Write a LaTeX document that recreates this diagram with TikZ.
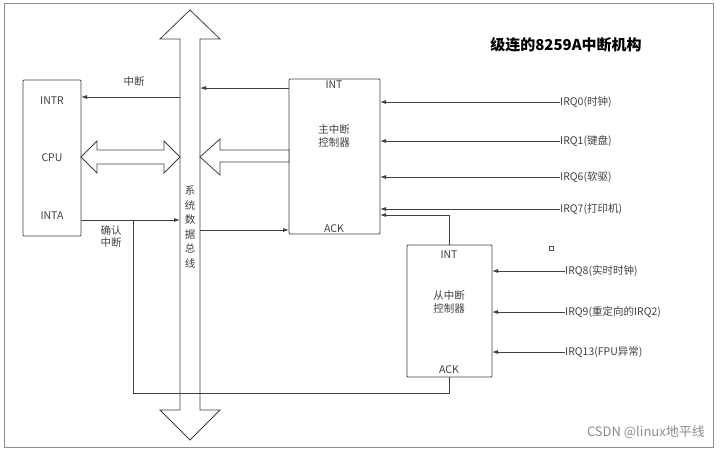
\documentclass[tikz,border=0pt]{standalone}
\usepackage{fontspec}
\setmainfont{Noto Sans CJK SC}
\usetikzlibrary{arrows.meta}
\begin{document}
\begin{tikzpicture}[x=1pt,y=-1pt,
  box/.style={draw=black!75,rounded corners=1pt,line width=0.8pt},
  conn/.style={draw=black!75,line width=0.8pt,-{Latex[length=6pt,width=4pt]}},
  wire/.style={draw=black!75,line width=0.8pt},
  hol/.style={draw=black!75,line width=0.8pt,fill=white,line join=miter},
  lab/.style={font=\fontsize{10.5}{12}\selectfont,text=black!75,inner sep=0pt}]
\useasboundingbox (0,0) rectangle (720,451);
\draw[black!45,line width=0.8pt] (4,3) rectangle (713,447);
% boxes
\draw[box] (23,80) rectangle (81,236);
\draw[box] (289,79) rectangle (380,234);
\draw[box] (407,245) rectangle (492,377);
\node[lab] (intr) at (52,101) {INTR};
\node[lab] (cpu) at (52,158) {CPU};
\node[lab] (inta) at (52,216) {INTA};
\node[lab] (mint) at (334,85) {INT};
\node[lab,align=center] (mname) at (334,136) {主中断\\[1pt]控制器};
\node[lab] (mack) at (334,229) {ACK};
\node[lab] (sint) at (449,255) {INT};
\node[lab,align=center] (sname) at (449,302) {从中断\\[1pt]控制器};
\node[lab] (sack) at (449,370) {ACK};
% bus
\draw[hol] (190,10) -- (220,39) -- (200,39) -- (200,410) -- (220,410) -- (190,440) -- (160,410) -- (180,410) -- (180,39) -- (160,39) -- cycle;
\node[lab,align=center,font=\fontsize{10.5}{14.5}\selectfont] (bus) at (190,227) {系\\统\\数\\据\\总\\线};
% CPU double arrow
\draw[hol] (81,157) -- (97,141) -- (97,150) -- (164,150) -- (164,141) -- (180,157) -- (164,173) -- (164,164) -- (97,164) -- (97,173) -- cycle;
% master hollow arrow
\draw[hol] (200,157) -- (220,139) -- (220,150) -- (289,150) -- (289,162) -- (220,162) -- (220,175) -- cycle;
% wires
\coordinate (b1) at (180,97);
\coordinate (b2) at (200,88);
\coordinate (b3) at (180,220);
\coordinate (b4) at (200,230);
\draw[conn] (b1) -- (81,97);
\node[lab] (zd) at (134,82) {中断};
\draw[conn] (289,88) -- (b2);
\draw[conn] (81,220) -- (b3);
\node[lab,align=center] (qr) at (111,237) {确认\\中断};
\draw[conn] (b4) -- (289,230);
% IRQs
\foreach \y/\t in {102/IRQ0(时钟),141/IRQ1(键盘),177/IRQ6(软驱),209/IRQ7(打印机)}{
  \node[lab,anchor=west] (q\y) at (560,\y) {\t};
  \draw[conn] (q\y.west) -- (380,\y);
}
\foreach \y/\t in {271/IRQ8(实时时钟),312/IRQ9(重定向的IRQ2),352/IRQ13(FPU异常)}{
  \node[lab,anchor=west] (s\y) at (565,\y) {\t};
  \draw[conn] (s\y.west) -- (492,\y);
}
\draw[conn] (449,245) -- (449,215) -- (380,215);
\draw[wire] (449,377) -- (449,393) -- (133,393) -- (133,220);
\draw[black!70,line width=0.6pt] (549,246) rectangle (553,250);
\node[font=\bfseries\fontsize{15}{16}\selectfont,inner sep=0pt] (title) at (566,45) {级连的8259A中断机构};
\node[font=\fontsize{13}{14}\selectfont,text=black!45,inner sep=0pt,anchor=east] (wm) at (705,432) {CSDN @linux地平线};
\end{tikzpicture}
\end{document}
